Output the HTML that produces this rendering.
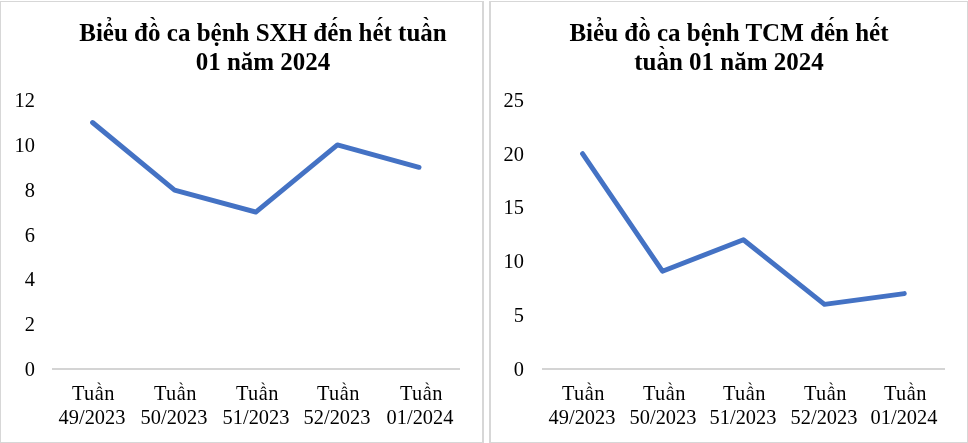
<!DOCTYPE html>
<html>
<head>
<meta charset="utf-8">
<style>
html,body{margin:0;padding:0;background:#fff;}
.t,.y,.x{will-change:transform;}
body{width:968px;height:443px;position:relative;overflow:hidden;font-family:"Liberation Serif",serif;color:#000;}
.bl{position:absolute;background:#d7d7d7;}
.t{position:absolute;font-weight:bold;font-size:25.0px;line-height:29.0px;white-space:nowrap;text-align:center;}
.y{position:absolute;font-size:20.4px;line-height:20px;text-align:right;width:40px;white-space:nowrap;}
.x{position:absolute;font-size:20.4px;line-height:23.6px;text-align:center;width:100px;white-space:nowrap;}
.tu{letter-spacing:0.45px;position:relative;left:1.4px;}
.k{position:relative;}
.k i{position:absolute;font-style:normal;line-height:1;letter-spacing:0;white-space:nowrap;}
svg{position:absolute;left:0;top:0;}
</style>
</head>
<body>
<div class="bl" style="left:0px;top:1px;width:484px;height:1px"></div>
<div class="bl" style="left:0px;top:442px;width:484px;height:1px"></div>
<div class="bl" style="left:0px;top:1px;width:1px;height:442px"></div>
<div class="bl" style="left:482px;top:1px;width:2px;height:442px"></div>
<div class="bl" style="left:489px;top:1px;width:479px;height:1px"></div>
<div class="bl" style="left:489px;top:442px;width:479px;height:1px"></div>
<div class="bl" style="left:489px;top:1px;width:2px;height:442px"></div>
<div class="bl" style="left:967px;top:1px;width:1px;height:442px"></div>
<div class="t" style="left:0;width:526px;top:18.0px;">Bi<span class="k">e<i style="font-size:25px;left:2.47px;top:1.34px;transform:scaleX(0.75)">&#x2c6;</i><i style="font-size:20px;left:8.8px;top:0.77px">&#x309;</i></span>u đ<span class="k">o<i style="font-size:25px;left:2.07px;top:1.34px;transform:scaleX(0.75)">&#x2c6;</i><i style="font-size:22px;left:1.14px;top:-5.0px">&#x60;</i></span> ca b<span class="k">ẹ<i style="font-size:25px;left:2.47px;top:1.34px;transform:scaleX(0.75)">&#x2c6;</i></span>nh SXH đ<span class="k">e<i style="font-size:25px;left:2.47px;top:1.34px;transform:scaleX(0.75)">&#x2c6;</i><i style="font-size:22px;left:3.7px;top:-5.0px">&#xb4;</i></span>n h<span class="k">e<i style="font-size:25px;left:2.47px;top:1.34px;transform:scaleX(0.75)">&#x2c6;</i><i style="font-size:22px;left:3.7px;top:-5.0px">&#xb4;</i></span>t tu<span class="k">a<i style="font-size:25px;left:1.87px;top:1.34px;transform:scaleX(0.75)">&#x2c6;</i><i style="font-size:22px;left:2.2px;top:-5.0px">&#x60;</i></span>n<br>01 năm 2024</div>
<div class="y" style="left:-5.40px;top:358.90px;">0</div>
<div class="y" style="left:-5.40px;top:314.10px;">2</div>
<div class="y" style="left:-5.40px;top:269.30px;">4</div>
<div class="y" style="left:-5.40px;top:224.50px;">6</div>
<div class="y" style="left:-5.40px;top:179.70px;">8</div>
<div class="y" style="left:-5.40px;top:134.90px;">10</div>
<div class="y" style="left:-5.40px;top:90.10px;">12</div>
<div class="x" style="left:41.95px;top:382.1px;"><span class="tu">Tu<span class="k">a<i style="font-size:16.5px;left:2.09px;top:3.0px">&#x2c6;</i><i style="font-size:16px;left:1.82px;top:-1.0px">&#x60;</i></span>n</span><br>49/2023</div>
<div class="x" style="left:123.87px;top:382.1px;"><span class="tu">Tu<span class="k">a<i style="font-size:16.5px;left:2.09px;top:3.0px">&#x2c6;</i><i style="font-size:16px;left:1.82px;top:-1.0px">&#x60;</i></span>n</span><br>50/2023</div>
<div class="x" style="left:205.69px;top:382.1px;"><span class="tu">Tu<span class="k">a<i style="font-size:16.5px;left:2.09px;top:3.0px">&#x2c6;</i><i style="font-size:16px;left:1.82px;top:-1.0px">&#x60;</i></span>n</span><br>51/2023</div>
<div class="x" style="left:287.01px;top:382.1px;"><span class="tu">Tu<span class="k">a<i style="font-size:16.5px;left:2.09px;top:3.0px">&#x2c6;</i><i style="font-size:16px;left:1.82px;top:-1.0px">&#x60;</i></span>n</span><br>52/2023</div>
<div class="x" style="left:369.53px;top:382.1px;"><span class="tu">Tu<span class="k">a<i style="font-size:16.5px;left:2.09px;top:3.0px">&#x2c6;</i><i style="font-size:16px;left:1.82px;top:-1.0px">&#x60;</i></span>n</span><br>01/2024</div>
<div class="t" style="left:490px;width:478px;top:18.0px;">Bi<span class="k">e<i style="font-size:25px;left:2.47px;top:1.34px;transform:scaleX(0.75)">&#x2c6;</i><i style="font-size:20px;left:8.8px;top:0.77px">&#x309;</i></span>u đ<span class="k">o<i style="font-size:25px;left:2.07px;top:1.34px;transform:scaleX(0.75)">&#x2c6;</i><i style="font-size:22px;left:1.14px;top:-5.0px">&#x60;</i></span> ca b<span class="k">ẹ<i style="font-size:25px;left:2.47px;top:1.34px;transform:scaleX(0.75)">&#x2c6;</i></span>nh TCM đ<span class="k">e<i style="font-size:25px;left:2.47px;top:1.34px;transform:scaleX(0.75)">&#x2c6;</i><i style="font-size:22px;left:3.7px;top:-5.0px">&#xb4;</i></span>n h<span class="k">e<i style="font-size:25px;left:2.47px;top:1.34px;transform:scaleX(0.75)">&#x2c6;</i><i style="font-size:22px;left:3.7px;top:-5.0px">&#xb4;</i></span>t<br>tu<span class="k">a<i style="font-size:25px;left:1.87px;top:1.34px;transform:scaleX(0.75)">&#x2c6;</i><i style="font-size:22px;left:2.2px;top:-5.0px">&#x60;</i></span>n 01 năm 2024</div>
<div class="y" style="left:484.30px;top:358.90px;">0</div>
<div class="y" style="left:484.30px;top:305.10px;">5</div>
<div class="y" style="left:484.30px;top:251.30px;">10</div>
<div class="y" style="left:484.30px;top:196.50px;">15</div>
<div class="y" style="left:484.30px;top:143.70px;">20</div>
<div class="y" style="left:484.30px;top:89.90px;">25</div>
<div class="x" style="left:532.30px;top:382.1px;"><span class="tu">Tu<span class="k">a<i style="font-size:16.5px;left:2.09px;top:3.0px">&#x2c6;</i><i style="font-size:16px;left:1.82px;top:-1.0px">&#x60;</i></span>n</span><br>49/2023</div>
<div class="x" style="left:613.00px;top:382.1px;"><span class="tu">Tu<span class="k">a<i style="font-size:16.5px;left:2.09px;top:3.0px">&#x2c6;</i><i style="font-size:16px;left:1.82px;top:-1.0px">&#x60;</i></span>n</span><br>50/2023</div>
<div class="x" style="left:693.10px;top:382.1px;"><span class="tu">Tu<span class="k">a<i style="font-size:16.5px;left:2.09px;top:3.0px">&#x2c6;</i><i style="font-size:16px;left:1.82px;top:-1.0px">&#x60;</i></span>n</span><br>51/2023</div>
<div class="x" style="left:774.25px;top:382.1px;"><span class="tu">Tu<span class="k">a<i style="font-size:16.5px;left:2.09px;top:3.0px">&#x2c6;</i><i style="font-size:16px;left:1.82px;top:-1.0px">&#x60;</i></span>n</span><br>52/2023</div>
<div class="x" style="left:854.20px;top:382.1px;"><span class="tu">Tu<span class="k">a<i style="font-size:16.5px;left:2.09px;top:3.0px">&#x2c6;</i><i style="font-size:16px;left:1.82px;top:-1.0px">&#x60;</i></span>n</span><br>01/2024</div>
<div class="bl" style="left:52px;top:368px;width:408px;height:2px;background:#d4d4d4"></div>
<div class="bl" style="left:542px;top:368px;width:403px;height:2px;background:#d4d4d4"></div>
<svg width="968" height="443" viewBox="0 0 968 443">
<polyline points="92.55,122.50 174.57,190.10 255.79,212.10 337.41,144.90 419.03,167.30" fill="none" stroke="#4472c4" stroke-width="4.9" stroke-linejoin="round" stroke-linecap="round"/>
<polyline points="582.50,153.70 662.45,271.16 743.40,239.78 824.45,304.34 904.30,293.58" fill="none" stroke="#4472c4" stroke-width="4.9" stroke-linejoin="round" stroke-linecap="round"/>
</svg>
</body>
</html>
